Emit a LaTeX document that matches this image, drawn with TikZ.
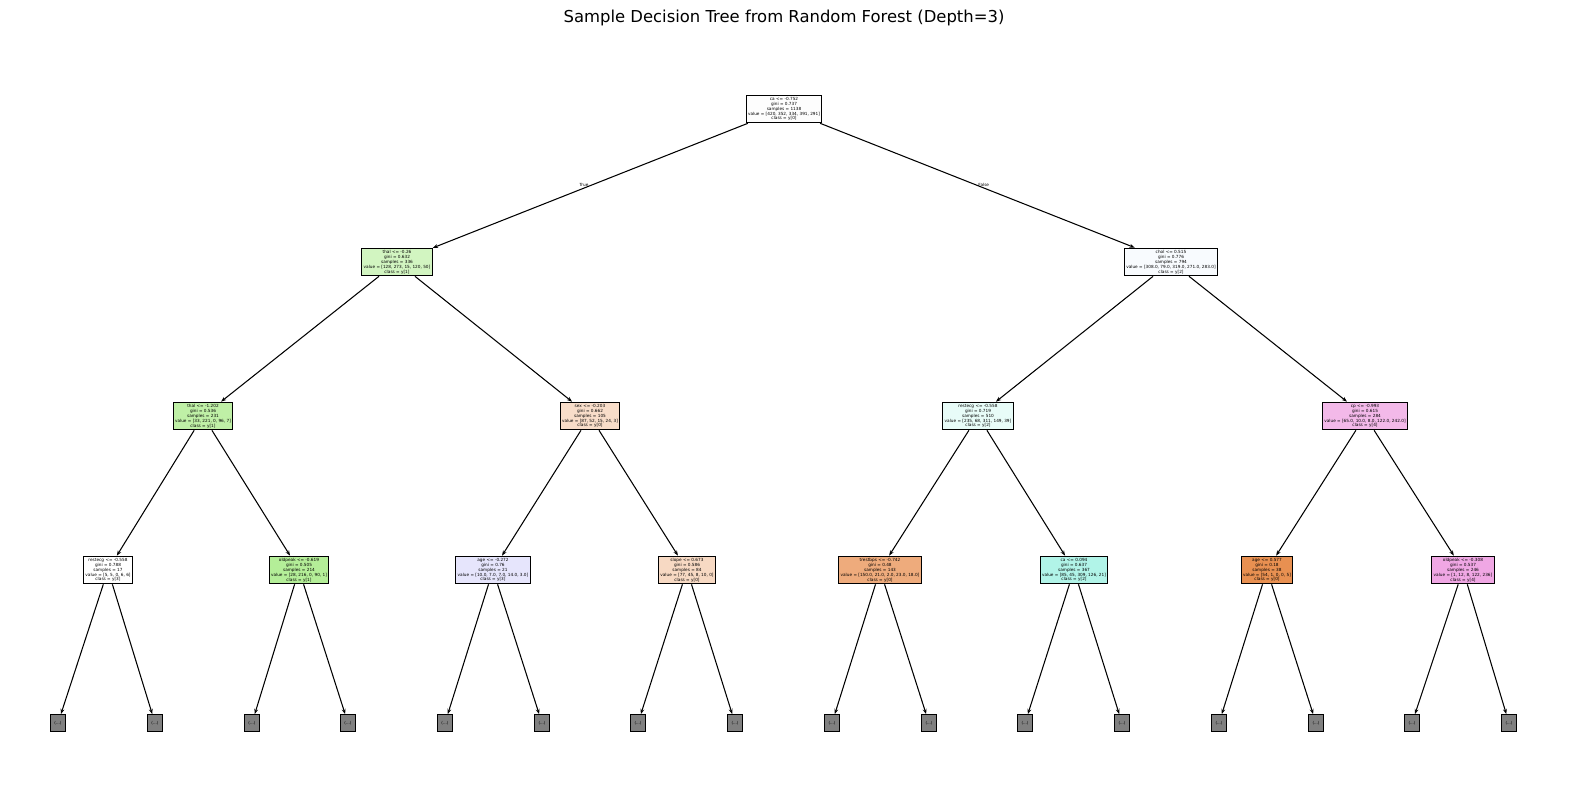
\documentclass[tikz,border=0pt]{standalone}
\usepackage{fontspec}
\setmainfont{DejaVu Sans}
\usetikzlibrary{arrows.meta}
\definecolor{cwhite}{HTML}{FDFDFD}
\definecolor{cgreenA}{HTML}{D2F5C1}
\definecolor{cblueA}{HTML}{F8FBFE}
\definecolor{cgreenB}{HTML}{BFF0A6}
\definecolor{cpeachA}{HTML}{F8DDC9}
\definecolor{ccyanA}{HTML}{E8FCF8}
\definecolor{cpinkA}{HTML}{F3B9E9}
\definecolor{cgreenC}{HTML}{B4EE98}
\definecolor{clav}{HTML}{E6E5FC}
\definecolor{cpeachB}{HTML}{F7D9C3}
\definecolor{corangeA}{HTML}{EEAB7C}
\definecolor{caqua}{HTML}{B1F4E8}
\definecolor{corangeB}{HTML}{E89051}
\definecolor{cpinkB}{HTML}{F0A7E4}

\begin{document}
\begin{tikzpicture}[x=0.02cm,y=-0.02cm,
	split/.style={draw=black, line width=0.6pt, align=center, inner sep=1.1pt,
		font=\fontsize{2.4}{2.8}\selectfont},
	leaf/.style={draw=black, line width=0.6pt, fill=gray, minimum width=9pt,
		minimum height=9.5pt, inner sep=0pt, font=\fontsize{2.3}{2.75}\selectfont},
	edge/.style={line width=0.6pt, -{Stealth[length=3pt,width=2.2pt]}},
	branch/.style={above, inner sep=0.3pt, font=\fontsize{2.4}{2.8}\selectfont}]
		\useasboundingbox (0,0) rectangle (1570,812);
		
		%title
		\node (title) at (784,18) {\fontsize{9.35}{11}\selectfont Sample Decision Tree from Random Forest (Depth=3)};
		
		%root and first split
		\node[split, fill=cwhite] (root) at (784,109) {ca <= -0.752\\gini = 0.737\\samples = 1138\\value = [420, 352, 334, 391, 291]\\class = y[0]};
		\node[split, fill=cgreenA] (l) at (397,262) {thal <= -0.26\\gini = 0.632\\samples = 336\\value = [128, 273, 15, 120, 50]\\class = y[1]};
		\node[split, fill=cblueA] (r) at (1171,262) {chol <= 0.515\\gini = 0.776\\samples = 794\\value = [308.0, 79.0, 319.0, 271.0, 283.0]\\class = y[2]};
		
		%second level
		\node[split, fill=cgreenB] (ll) at (203,416) {thal <= -1.202\\gini = 0.536\\samples = 231\\value = [33, 221, 0, 96, 7]\\class = y[1]};
		\node[split, fill=cpeachA] (lr) at (590,416) {sex <= -0.203\\gini = 0.662\\samples = 105\\value = [87, 52, 15, 24, 3]\\class = y[0]};
		\node[split, fill=ccyanA] (rl) at (978,416) {restecg <= -0.558\\gini = 0.719\\samples = 510\\value = [235, 68, 311, 149, 39]\\class = y[2]};
		\node[split, fill=cpinkA] (rr) at (1365,416) {cp <= -0.993\\gini = 0.615\\samples = 284\\value = [65.0, 10.0, 8.0, 122.0, 242.0]\\class = y[4]};
		
		%third level
		\node[split, fill=white] (lll) at (108,570) {restecg <= -0.558\\gini = 0.788\\samples = 17\\value = [5, 5, 0, 6, 6]\\class = y[3]};
		\node[split, fill=cgreenC] (llr) at (299,570) {oldpeak <= -0.619\\gini = 0.505\\samples = 214\\value = [28, 216, 0, 90, 1]\\class = y[1]};
		\node[split, fill=clav] (lrl) at (493,570) {age <= -0.272\\gini = 0.76\\samples = 21\\value = [10.0, 7.0, 7.0, 14.0, 3.0]\\class = y[3]};
		\node[split, fill=cpeachB] (lrr) at (687,570) {slope <= 0.673\\gini = 0.586\\samples = 84\\value = [77, 45, 8, 10, 0]\\class = y[0]};
		\node[split, fill=corangeA] (rll) at (880,570) {trestbps <= -0.742\\gini = 0.48\\samples = 143\\value = [150.0, 21.0, 2.0, 23.0, 18.0]\\class = y[0]};
		\node[split, fill=caqua] (rlr) at (1074,570) {ca <= 0.094\\gini = 0.637\\samples = 367\\value = [85, 45, 309, 126, 21]\\class = y[2]};
		\node[split, fill=corangeB] (rrl) at (1267,570) {age <= 0.577\\gini = 0.18\\samples = 38\\value = [54, 1, 0, 0, 5]\\class = y[0]};
		\node[split, fill=cpinkB] (rrr) at (1463,570) {oldpeak <= -0.308\\gini = 0.537\\samples = 246\\value = [1, 12, 8, 122, 236]\\class = y[4]};
		
		%edges
		\draw[edge] (root) -- (l) node[branch, pos=0.52] {True};
		\draw[edge] (root) -- (r) node[branch, pos=0.52] {False};
		\foreach \p/\c in {l/ll, l/lr, r/rl, r/rr, ll/lll, ll/llr, lr/lrl, lr/lrr, rl/rll, rl/rlr, rr/rrl, rr/rrr}
		\draw[edge] (\p) -- (\c);
		
		%truncated leaves
		\foreach \p/\xa/\xb in {lll/58/155, llr/252/348, lrl/445/542, lrr/638/735, rll/832/929, rlr/1025/1122, rrl/1219/1316, rrr/1412/1509}
		{
			\node[leaf] (\p-a) at (\xa,723) {(...)};
			\node[leaf] (\p-b) at (\xb,723) {(...)};
			\draw[edge] (\p) -- (\p-a);
			\draw[edge] (\p) -- (\p-b);
		}
\end{tikzpicture}
\end{document}
